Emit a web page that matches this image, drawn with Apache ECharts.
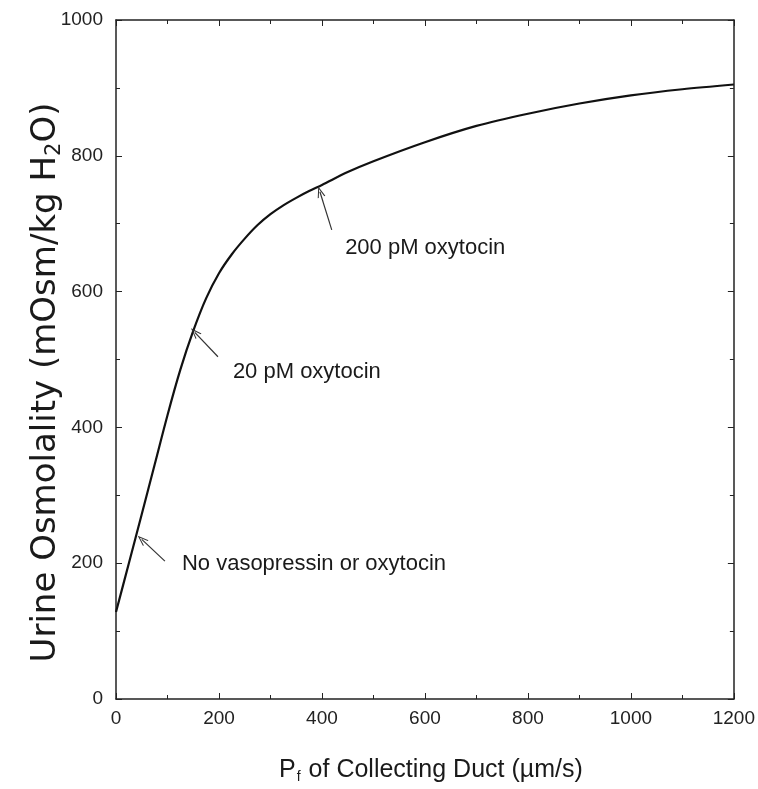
<!DOCTYPE html>
<html>
<head>
<meta charset="utf-8">
<script src="https://cdn.jsdelivr.net/npm/echarts@6/dist/echarts.min.js"></script>
<style>
html,body{margin:0;padding:0;background:#fff;}
#chart{width:758px;height:789px;}
</style>
</head>
<body>
<div id="chart"></div>
<script>
// Pf of collecting duct (µm/s)
const pfValues = [0, 25, 50, 75, 100, 125, 150, 175, 200, 225, 250, 275, 300, 325, 350, 375, 400, 450, 500, 600, 700, 800, 900, 1000, 1100, 1200];
// Urine osmolality (mOsm/kg H2O)
const osmolality = [128, 200, 272, 345, 418, 485, 542, 590, 627, 655, 678, 698, 714, 727, 738, 748, 757, 776, 792, 820, 844, 862, 877, 889, 898, 905];

// annotations: label text, label anchor, arrow tail, arrow tip (data coords)
const annotationTexts = ['No vasopressin or oxytocin', '20 pM oxytocin', '200 pM oxytocin'];
const annotationLabelAt = [[128, 199], [227, 482], [445, 665]];
const arrowTails = [[95, 203], [198, 504], [419, 691]];
const arrowTips = [[50, 235], [153, 540], [396, 747]];

const xMin = 0, xMax = 1200, xStep = 200;
const yMin = 0, yMax = 1000, yStep = 200;

const tickFont = '"Liberation Sans", Arial, sans-serif';
const arrowHead = 'path://M5,0 L10,10 L8.6,10 L5,2.6 L1.4,10 L0,10 Z';

const seriesData = pfValues.map((x, i) => [x, osmolality[i]]);

const markLines = arrowTails.map((t, i) => [
  { coord: t, symbol: 'none' },
  { coord: arrowTips[i], symbol: arrowHead, symbolSize: [8, 11] }
]);
const markPoints = annotationTexts.map((txt, i) => ({
  coord: annotationLabelAt[i],
  value: txt,
  symbol: 'circle',
  symbolSize: 0,
  label: {
    show: true,
    position: [0, 0],
    align: 'left',
    verticalAlign: 'middle',
    formatter: txt,
    fontFamily: tickFont,
    fontSize: 22,
    color: '#1a1a1a'
  }
}));

const axisLineStyle = { color: '#222', width: 1.5 };
const plain = v => String(v);

function frameAxis(extra) {
  return Object.assign({
    axisLine: { show: true, onZero: false, lineStyle: axisLineStyle },
    axisTick: { show: true, inside: true, length: 6, lineStyle: { color: '#222', width: 1 } },
    minorTick: { show: true, splitNumber: 2, length: 4, lineStyle: { color: '#222', width: 1 } },
    splitLine: { show: false },
    minorSplitLine: { show: false }
  }, extra);
}

const chart = echarts.init(document.getElementById('chart'), null, { renderer: 'canvas' });
chart.setOption({
  backgroundColor: '#fff',
  animation: false,
  grid: { left: 116, right: 24, top: 20, bottom: 89, containLabel: false },
  xAxis: [frameAxis({
    type: 'value', min: xMin, max: xMax, interval: xStep, position: 'bottom',
    name: '{m|P}{s|f}{m| of Collecting Duct (µm/s)}',
    nameLocation: 'middle', nameGap: 58, nameMoveOverlap: false,
    nameTextStyle: {
      padding: [0, 0, 0, 12],
      rich: {
        m: { fontFamily: '"Liberation Sans", Arial, sans-serif', fontSize: 25, color: '#1a1a1a' },
        s: { fontFamily: '"Liberation Sans", Arial, sans-serif', fontSize: 14, color: '#1a1a1a', verticalAlign: 'bottom', padding: [13, 1, 0, 1] }
      }
    },
    axisLabel: { margin: 10, fontFamily: tickFont, fontSize: 19, color: '#222', formatter: plain }
  }), frameAxis({
    type: 'value', min: xMin, max: xMax, interval: xStep, position: 'top',
    axisLabel: { show: false }
  })],
  yAxis: [frameAxis({
    type: 'value', min: yMin, max: yMax, interval: yStep, position: 'left',
    name: '{m|Urine Osmolality (mOsm/kg H}{s|2}{m|O)}',
    nameLocation: 'middle', nameGap: 51, nameRotate: 90, nameMoveOverlap: false,
    nameTextStyle: {
      padding: [0, 46, 0, 0],
      rich: {
        m: { fontFamily: '"DejaVu Sans", sans-serif', fontSize: 34, color: '#1a1a1a' },
        s: { fontFamily: '"DejaVu Sans", sans-serif', fontSize: 21, color: '#1a1a1a', verticalAlign: 'bottom', padding: [16, 0, 0, 0] }
      }
    },
    axisLabel: { margin: 13, fontFamily: tickFont, fontSize: 19, color: '#222', formatter: plain }
  }), frameAxis({
    type: 'value', min: yMin, max: yMax, interval: yStep, position: 'right',
    axisLabel: { show: false }
  })],
  series: [{
    type: 'line',
    xAxisIndex: 0, yAxisIndex: 0,
    data: seriesData,
    smooth: 0.3,
    showSymbol: false,
    symbol: 'none',
    lineStyle: { color: '#111', width: 2.2 },
    silent: true,
    markLine: {
      silent: true,
      animation: false,
      label: { show: false },
      lineStyle: { color: '#333', width: 1.2, type: 'solid' },
      data: markLines
    },
    markPoint: {
      silent: true,
      animation: false,
      data: markPoints
    }
  }]
});
</script>
</body>
</html>
